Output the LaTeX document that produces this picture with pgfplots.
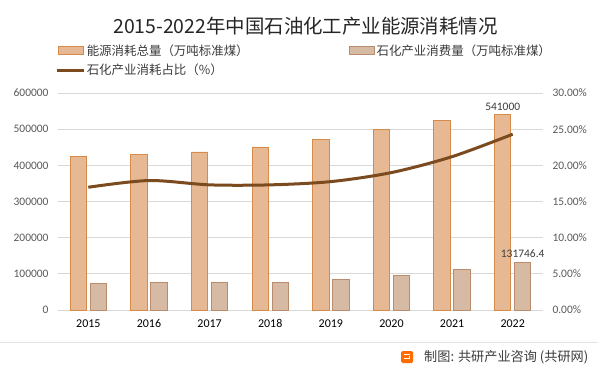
\documentclass[border=0pt]{standalone}
\usepackage{pgfplots}
\pgfplotsset{compat=1.18}
\usepackage{fontspec}
\setmainfont{Carlito}
\newfontfamily\cjk{Noto Sans CJK SC}
\definecolor{bigfill}{HTML}{E6B893}
\definecolor{bigedge}{HTML}{D68B48}
\definecolor{smallfill}{HTML}{D7BAA3}
\definecolor{smalledge}{HTML}{B98C6E}
\definecolor{linec}{HTML}{7B4A1F}
\definecolor{gridc}{HTML}{D9D9D9}
\definecolor{tickc}{HTML}{595959}
\definecolor{titlec}{HTML}{262626}

\pgfplotstableread{
x total petro share
0 424600 74000 16.97
1 431000 76800 17.90
2 437000 77000 17.30
3 450700 77000 17.30
4 472800 85000 17.75
5 500000 96000 19.00
6 525000 112700 21.20
7 541000 131746.4 24.30
}\datatable

\begin{document}
\begin{tikzpicture}[x=1bp,y=1bp]
\path[use as bounding box] (0,0) rectangle (598,372);
\fill[white] (0,0) rectangle (598,372);
% title
\node[font=\cjk\fontsize{19.5}{22}\selectfont, text=titlec] at (305.5,346) {2015-2022年中国石油化工产业能源消耗情况};
% separator and source
\draw[color=gridc!70, line width=0.8bp] (0,30) -- (598,30);
\fill[color=orange!85!red, rounded corners=1.5bp] (401,9) rectangle (413,21);
\fill[white] (404,13) rectangle (410,14.5);
\fill[white] (404,17) rectangle (410,18.5);
\fill[white] (408.5,13) rectangle (410,16);
\node[anchor=west, font=\cjk\fontsize{13.2}{15}\selectfont, text=titlec!90, inner sep=0] at (424,15) {制图: 共研产业咨询 (共研网)};

\begin{axis}[
  at={(58bp,62bp)}, anchor=south west,
  width=485bp, height=217bp, scale only axis,
  xmin=-0.5, xmax=7.5, ymin=0, ymax=600000,
  xtick={0,...,7},
  xticklabels={2015,2016,2017,2018,2019,2020,2021,2022},
  ytick={0,100000,...,600000},
  axis x line*=bottom, axis y line*=left,
  axis line style={draw=none},
  major tick length=0pt,
  ymajorgrids, grid style={gridc, line width=0.8bp},
  scaled y ticks=false,
  /pgf/number format/assume math mode=true,
  yticklabel style={/pgf/number format/fixed,/pgf/number format/1000 sep={}, font=\fontsize{11.5}{13}\selectfont, text=tickc, xshift=-6bp},
  xticklabel style={font=\fontsize{12}{13}\selectfont, text=black, yshift=-6bp},
  clip=false,
]
\addplot[ybar, bar width=0.27, bar shift=-0.165, fill=bigfill, draw=bigedge, line width=0.9bp] table[x=x, y=total] {\datatable};
\addplot[ybar, bar width=0.27, bar shift=0.165, fill=smallfill, draw=smalledge, line width=0.9bp] table[x=x, y=petro] {\datatable};
\node[above, font=\fontsize{11.5}{13}\selectfont, text=titlec!90, inner sep=4bp] at (axis cs:6.835,541000) {541000};
\node[above, font=\fontsize{11.5}{13}\selectfont, text=titlec!90, inner sep=5bp] at (axis cs:7.165,131746.4) {131746.4};
\end{axis}

\begin{axis}[
  at={(58bp,62bp)}, anchor=south west,
  width=485bp, height=217bp, scale only axis,
  xmin=-0.5, xmax=7.5, ymin=0, ymax=30,
  axis y line*=right, axis x line=none,
  axis line style={draw=none},
  major tick length=0pt,
  ytick={0,5,...,30},
  /pgf/number format/assume math mode=true,
  yticklabel={\pgfmathprintnumber[fixed,fixed zerofill,precision=2]{\tick}\%},
  yticklabel style={font=\fontsize{11.5}{13}\selectfont, text=tickc, xshift=6bp},
  clip=false,
  legend columns=2,
  legend cell align=left,
  legend style={at={(-0.006,1.23)}, anchor=north west, draw=none, fill=none,
    font=\cjk\fontsize{12.5}{14}\selectfont, text=titlec!90,
    inner sep=0pt, row sep=4bp,
    nodes={inner sep=1.5bp},
    /tikz/every even column/.append style={column sep=99bp}},
]
\addlegendimage{legend image code/.code={\draw[fill=bigfill, draw=bigedge, line width=0.9bp] (0bp,-4bp) rectangle (25bp,4bp);}}
\addlegendentry{能源消耗总量（万吨标准煤）}
\addlegendimage{legend image code/.code={\draw[fill=smallfill, draw=smalledge, line width=0.9bp] (0bp,-4bp) rectangle (25bp,4bp);}}
\addlegendentry{石化产业消费量（万吨标准煤）}
\addplot[color=linec, line width=3bp, smooth, tension=0.5, no markers,
  legend image code/.code={\draw[color=linec, line width=3bp] (-2bp,0bp) -- (25bp,0bp);}] table[x=x, y=share] {\datatable};
\addlegendentry{石化产业消耗占比（\%）}
\end{axis}
\end{tikzpicture}
\end{document}
